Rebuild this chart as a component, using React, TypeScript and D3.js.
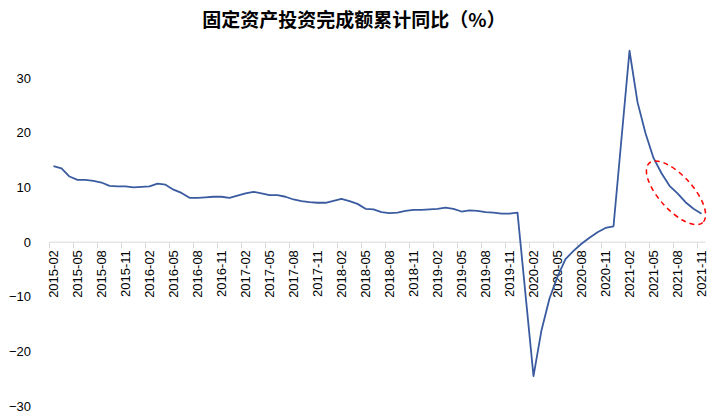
import React from "react";
import * as d3 from "d3";

const title = "固定资产投资完成额累计同比（%）";
const years = [2015, 2016, 2017, 2018, 2019, 2020, 2021];
// Feb..Dec values per year (January not published)
const v2015 = [13.9, 13.5, 12.0, 11.4, 11.4, 11.2, 10.9, 10.3, 10.2, 10.2, 10.0];
const v2016 = [10.2, 10.7, 10.5, 9.6, 9.0, 8.1, 8.1, 8.2, 8.3, 8.3, 8.1];
const v2017 = [8.9, 9.2, 8.9, 8.6, 8.6, 8.3, 7.8, 7.5, 7.3, 7.2, 7.2];
const v2018 = [7.9, 7.5, 7.0, 6.1, 6.0, 5.5, 5.3, 5.4, 5.7, 5.9, 5.9];
const v2019 = [6.1, 6.3, 6.1, 5.6, 5.8, 5.7, 5.5, 5.4, 5.2, 5.2, 5.4];
const v2020 = [-24.5, -16.1, -10.3, -6.3, -3.1, -1.6, -0.3, 0.8, 1.8, 2.6, 2.9];
const v2021 = [35.0, 25.6, 19.9, 15.4, 12.6, 10.3, 8.9, 7.3, 6.1, 5.2];
const yTicks = [-30, -20, -10, 0, 10, 20, 30];

const yearValues = [v2015, v2016, v2017, v2018, v2019, v2020, v2021];

type Pt = { label: string; value: number | null };
const categories: Pt[] = [];
years.forEach((y, yi) => {
  for (let m = 1; m <= 12; m++) {
    if (y === 2015 && m < 2) continue;
    if (y === 2021 && m > 11) continue;
    const label = `${y}-${String(m).padStart(2, "0")}`;
    const value = m === 1 ? null : yearValues[yi][m - 2] ?? null;
    categories.push({ label, value });
  }
});

export default function App() {
  const W = 718, H = 420;
  const left = 49.5, right = 705.5;
  const x = d3.scaleBand<string>().domain(categories.map(c => c.label)).range([left, right]);
  const y = d3.scaleLinear().domain([-30, 40]).range([406.2, 23.4]);
  const bw = x.bandwidth();
  const pts = categories.filter(c => c.value != null);
  const line = d3.line<Pt>().x(d => (x(d.label) as number) + bw / 2).y(d => y(d.value as number));
  const labeled = categories.filter((_, i) => i % 3 === 0);
  const fmt = d3.format("d");
  const y0 = y(0);

  // ellipse around the 2021-05..2021-11 segment
  const e1 = categories.find(c => c.label === "2021-05")!;
  const e2 = categories.find(c => c.label === "2021-11")!;
  const ax = (x(e1.label) as number) + bw / 2, ay = y(e1.value as number);
  const bx = (x(e2.label) as number) + bw / 2, by = y(e2.value as number);
  const cx = (ax + bx) / 2 - 1.5, cy = (ay + by) / 2 + 7;

  return (
    <svg width={W} height={H} style={{ position: "absolute", left: 0, top: 0, background: "#fff" }}
      fontFamily="'Liberation Sans', Arial, sans-serif">
      <text x={354} y={27} textAnchor="middle" fontSize={19} fontWeight="bold"
        fontFamily="'Noto Sans CJK SC', sans-serif" fill="#000">{title}</text>
      {yTicks.map(t => (
        <text key={t} x={31} y={y(t)} dy="0.35em" textAnchor="end" fontSize={13} fill="#000">{fmt(t)}</text>
      ))}
      <line x1={left} x2={right} y1={y0} y2={y0} stroke="#D9D9D9" strokeWidth={1} />
      {labeled.map(c => (
        <line key={"t" + c.label} x1={(x(c.label) as number)} x2={(x(c.label) as number)} y1={y0} y2={y0 + 6}
          stroke="#D9D9D9" strokeWidth={1} />
      ))}
      {labeled.map(c => {
        const cxp = (x(c.label) as number) + bw / 2;
        return (
          <text key={"l" + c.label} transform={`translate(${cxp},${y0 + 8}) rotate(-90)`} dy="0.35em"
            textAnchor="end" fontSize={13} fill="#000">{c.label}</text>
        );
      })}
      <path d={line(pts) || ""} fill="none" stroke="#3A5BA0" strokeWidth={1.8} strokeLinejoin="round" />
      <ellipse cx={cx} cy={cy} rx={40} ry={17} transform={`rotate(48 ${cx} ${cy})`}
        fill="none" stroke="#FF0000" strokeWidth={1.5} strokeDasharray="5 4" />
    </svg>
  );
}
